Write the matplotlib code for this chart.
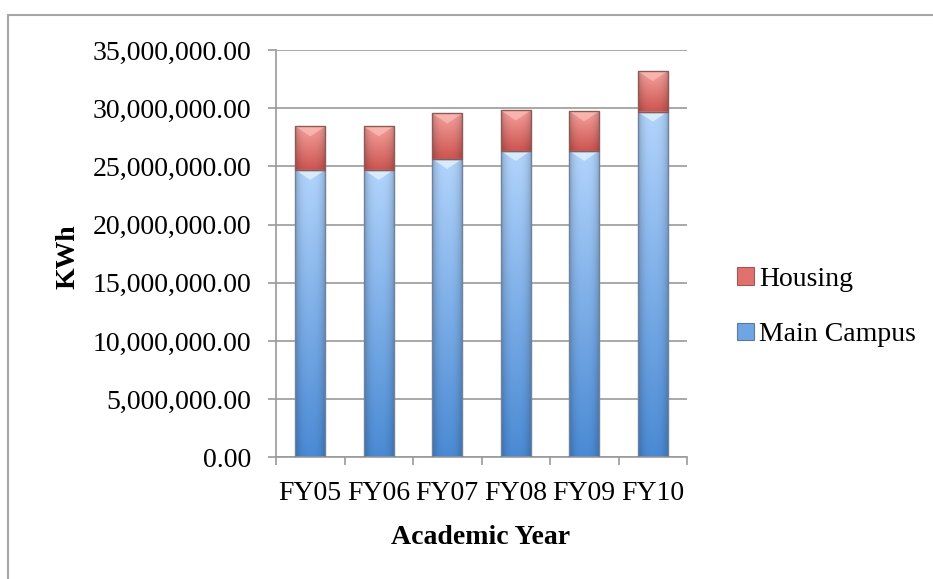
import numpy as np
import matplotlib.pyplot as plt
from matplotlib.patches import Patch, Polygon, Rectangle
from matplotlib.ticker import FuncFormatter, MultipleLocator, FixedLocator

# Electricity use per academic year (kWh)
years = ["FY05", "FY06", "FY07", "FY08", "FY09", "FY10"]
main_campus = [24.70e6, 24.70e6, 25.64e6, 26.33e6, 26.33e6, 29.70e6]
housing = [3.74e6, 3.74e6, 3.91e6, 3.48e6, 3.40e6, 3.49e6]

plt.rcParams['font.family'] = ['Liberation Serif', 'DejaVu Serif']

fig = plt.figure(figsize=(9.33, 5.79), dpi=100)
ax = fig.add_axes([276 / 933, 1 - 457.3 / 579, 411 / 933, 407.3 / 579])

x = np.arange(len(years))
width = 0.44
blue_bars = ax.bar(x, main_campus, width, facecolor='none',
                   edgecolor='#6f839e', linewidth=1.0, zorder=3)
red_bars = ax.bar(x, housing, width, bottom=main_campus, facecolor='none',
                  edgecolor='#8e5a57', linewidth=1.0, zorder=3)


def shade(top, bottom, n=120, m=40):
    # vertical gradient, darker towards the left/right edges
    t = np.linspace(1, 0, n)[:, None, None]
    top = np.array(top) / 255
    bottom = np.array(bottom) / 255
    img = bottom + (top - bottom) * t
    s = np.abs(np.linspace(-1, 1, m))[None, :, None]
    return img * (1 - 0.22 * s ** 3)


blue_img = shade((178, 212, 252), (74, 138, 212))
red_img = shade((246, 162, 157), (204, 84, 80))
px_per_unit = 407.3 / 35e6
chevron_h = 10 / px_per_unit

for bars, img, light in [(blue_bars, blue_img, '#e4f4ff'),
                         (red_bars, red_img, '#fbbdb8')]:
    for p in bars:
        x0, y0 = p.get_x(), p.get_y()
        w, h = p.get_width(), p.get_height()
        im = ax.imshow(img, extent=(x0, x0 + w, y0, y0 + h), aspect='auto',
                       interpolation='bilinear', zorder=2)
        im.set_clip_path(p)
        tri = Polygon([(x0, y0 + h), (x0 + w, y0 + h),
                       (x0 + w / 2, y0 + h - chevron_h)],
                      closed=True, facecolor=light, edgecolor='none',
                      alpha=0.75, zorder=2.5)
        ax.add_patch(tri)

ax.set_xlim(-0.5, len(years) - 0.5)
ax.set_ylim(0, 35e6)
ax.set_aspect('auto')

grid_c = '#9a9a9a'
ax.yaxis.set_major_locator(MultipleLocator(5e6))
ax.yaxis.set_major_formatter(FuncFormatter(lambda v, _: f"{v:,.2f}"))
ax.grid(axis='y', color=grid_c, linewidth=1.2, zorder=0)
ax.set_axisbelow(True)

ax.set_xticks(x)
ax.set_xticklabels(years)
ax.xaxis.set_minor_locator(FixedLocator(np.arange(-0.5, len(years), 1)))
ax.tick_params(axis='x', which='major', length=0, pad=17, labelsize=20)
ax.tick_params(axis='x', which='minor', length=6, width=1.2, color=grid_c)
ax.tick_params(axis='y', length=6, width=1.2, color=grid_c, pad=12, labelsize=20)

for side in ['top', 'right']:
    ax.spines[side].set_visible(False)
for side in ['left', 'bottom']:
    ax.spines[side].set_color(grid_c)
    ax.spines[side].set_linewidth(1.2)

fig.text(68 / 933, 1 - 257 / 579, "KWh", rotation=90, fontsize=20,
         fontweight='bold', ha='center', va='center')
fig.text(481 / 933, 1 - 537 / 579, "Academic Year", fontsize=20,
         fontweight='bold', ha='center', va='center')

handles = [Patch(facecolor='#e0716c', edgecolor='#9a5a57', linewidth=0.8),
           Patch(facecolor='#6fa5e2', edgecolor='#5a7aa0', linewidth=0.8)]
fig.legend(handles, ["Housing", "Main Campus"], loc='center left',
           bbox_to_anchor=(737 / 933, 1 - 307 / 579), frameon=False,
           fontsize=20, handlelength=0.6, handleheight=0.6,
           handletextpad=0.2, labelspacing=1.1, borderpad=0,
           borderaxespad=0)

# chart area border (runs off the right and bottom edges)
fig.add_artist(Rectangle((8 / 933, -0.1), 1.2, 1 - 15 / 579 + 0.1,
                         transform=fig.transFigure, fill=False,
                         edgecolor='#a6a6a6', linewidth=1.5))

fig.savefig('out.png', dpi=100)
